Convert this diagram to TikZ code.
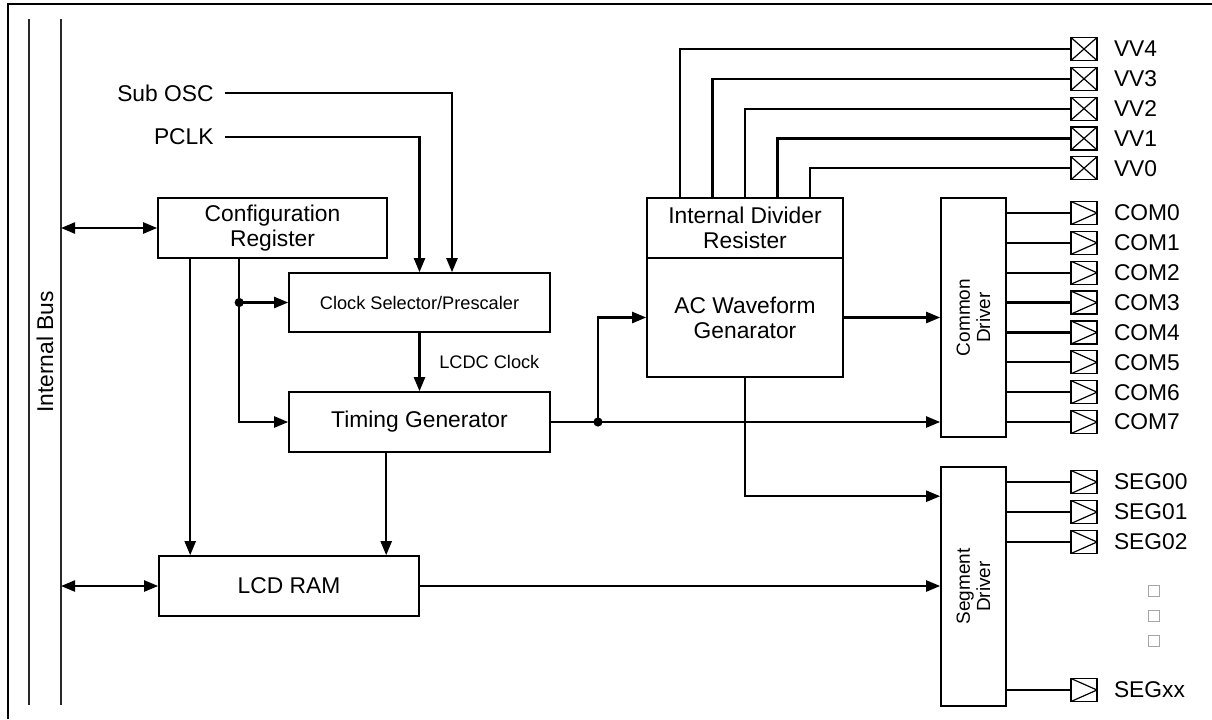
\documentclass[tikz,border=0pt]{standalone}
\usepackage{fontspec}
\setmainfont{Liberation Sans}
\usetikzlibrary{arrows.meta, positioning}
\definecolor{padgray}{RGB}{165, 165, 165}
\definecolor{busgray}{RGB}{40, 40, 40}

\begin{document}
\begin{tikzpicture}[x=0.5pt, y=-0.5pt,
  >={Triangle[length=7pt, width=5.5pt]},
  wire/.style={line width=1.1pt},
  block/.style={draw, line width=0.8pt, align=center, inner sep=0pt, font=\fontsize{11.4}{12.6}\selectfont},
  smallblock/.style={block, font=\fontsize{9.1}{10.5}\selectfont},
  driver/.style={draw, line width=0.8pt, minimum width=32.5pt, minimum height=119.5pt, inner sep=0pt},
  drvtext/.style={rotate=90, align=center, font=\fontsize{9.5}{10.2}\selectfont},
  sig/.style={inner xsep=5.5pt, inner ysep=0pt, font=\fontsize{11.4}{12.6}\selectfont},
  pad/.style={draw, line width=0.6pt, minimum width=13pt, minimum height=11.5pt, inner sep=0pt},
  xpad/.style={pad, path picture={\draw[line width=0.6pt] (path picture bounding box.north west) -- (path picture bounding box.south east) (path picture bounding box.north east) -- (path picture bounding box.south west);}},
  obuf/.style={pad, path picture={\draw[line width=0.6pt] (path picture bounding box.north west) -- (path picture bounding box.east) -- (path picture bounding box.south west);}},
  pinlabel/.style={anchor=west, inner sep=0pt, xshift=8pt, font=\fontsize{11.4}{12.6}\selectfont}]
  \useasboundingbox (0,0) rectangle (1212,719);
  \draw[line width=1.4pt] (8,719) -- (8,4) -- (1212,4);

  \draw[line width=0.6pt, busgray] (29,19) -- (29,705);
  \draw[line width=0.6pt, busgray] (61,19) -- (61,705);
  \node[rotate=90, font=\fontsize{11.4}{12.6}\selectfont] (bus) at (45,352) {Internal Bus};
  \coordinate (tapcfg) at (61,228);
  \coordinate (tapram) at (61,586);

  \node[block, minimum width=114.5pt, minimum height=30pt] (cfg) at (272.5,228) {Configuration\\Register};
  \node[smallblock, minimum width=130.5pt, minimum height=29.5pt] (clk) at (419.5,302.5) {Clock Selector/Prescaler};
  \node[block, minimum width=130.5pt, minimum height=30pt] (tim) at (419.5,422) {Timing Generator};
  \node[block, minimum width=130pt, minimum height=30pt] (ram) at (289,586) {LCD RAM};
  \node[block, minimum width=98pt, minimum height=30pt] (div) at (745,228) {Internal Divider\\Resister};
  \node[block, minimum width=98pt, minimum height=59.5pt] (acw) at (745,317.5) {AC Waveform\\Genarator};
  \node[driver] (com) at (973.5,317.5) {};
  \node[drvtext] at (com.center) {Common\\Driver};
  \node[driver] (seg) at (973.5,586.5) {};
  \node[drvtext] at (seg.center) {Segment\\Driver};

  \node[sig, anchor=east] (subosc) at (225,93) {Sub OSC};
  \node[sig, anchor=east] (pclk) at (225,137) {PCLK};
  \draw[wire, ->] (subosc.east) -| ([xshift=16.25pt]clk.north);
  \draw[wire, ->] (pclk.east) -| (clk.north);

  \draw[wire, <->] (tapcfg) -- (cfg.west);
  \draw[wire, <->] (tapram) -- (ram.west);
  \draw[wire, ->] ([xshift=16.5pt]cfg.south west) -- ([xshift=16.5pt]cfg.south west |- ram.north);
  \coordinate (split) at ([xshift=41pt]cfg.south west |- clk.west);
  \draw[wire, ->] ([xshift=41pt]cfg.south west) |- (tim.west);
  \draw[wire, ->] (split) -- (clk.west);
  \fill (split) circle (2.3pt);
  \draw[wire, ->] (clk.south) -- (tim.north) node[midway, right=6pt, font=\fontsize{9.1}{10.5}\selectfont] {LCDC Clock};
  \draw[wire, ->] ([xshift=49pt]tim.south west) -- ([xshift=49pt]tim.south west |- ram.north);

  \coordinate (junc) at (598,422);
  \draw[wire, ->] (tim.east) -- (tim.east -| com.west);
  \draw[wire, ->] (junc) |- (acw.west);
  \fill (junc) circle (2.3pt);
  \draw[wire, ->] (acw.east) -- (com.west);
  \draw[wire, ->] (acw.south) |- ([yshift=-15pt]seg.north west);
  \draw[wire, ->] (ram.east) -- (ram.east -| seg.west);

  \foreach \i/\dx in {4/-32.5, 3/-16.25, 2/0, 1/16.25, 0/32.5} {
    \node[xpad] (vv\i) at (1084,{49+(4-\i)*29.8}) {};
    \node[pinlabel] (vv\i txt) at (vv\i.east) {VV\i};
    \draw[wire] ([xshift=\dx pt]div.north) |- (vv\i.west);
  }
  \foreach \i in {0,...,7} {
    \node[obuf] (com\i) at (1084,{213+\i*29.86}) {};
    \node[pinlabel] (com\i txt) at (com\i.east) {COM\i};
    \draw[wire] (com\i.west -| com.east) -- (com\i.west);
  }
  \foreach \i/\y in {00/482, 01/512, 02/542, xx/690} {
    \node[obuf] (seg\i) at (1084,\y) {};
    \node[pinlabel] (seg\i txt) at (seg\i.east) {SEG\i};
    \draw[wire] (seg\i.west -| seg.east) -- (seg\i.west);
  }
  \foreach \y [count=\k] in {591, 616, 641}
    \node[draw=padgray, line width=0.4pt, minimum size=5.5pt, inner sep=0pt] (gap\k) at (1154,\y) {};
\end{tikzpicture}
\end{document}
